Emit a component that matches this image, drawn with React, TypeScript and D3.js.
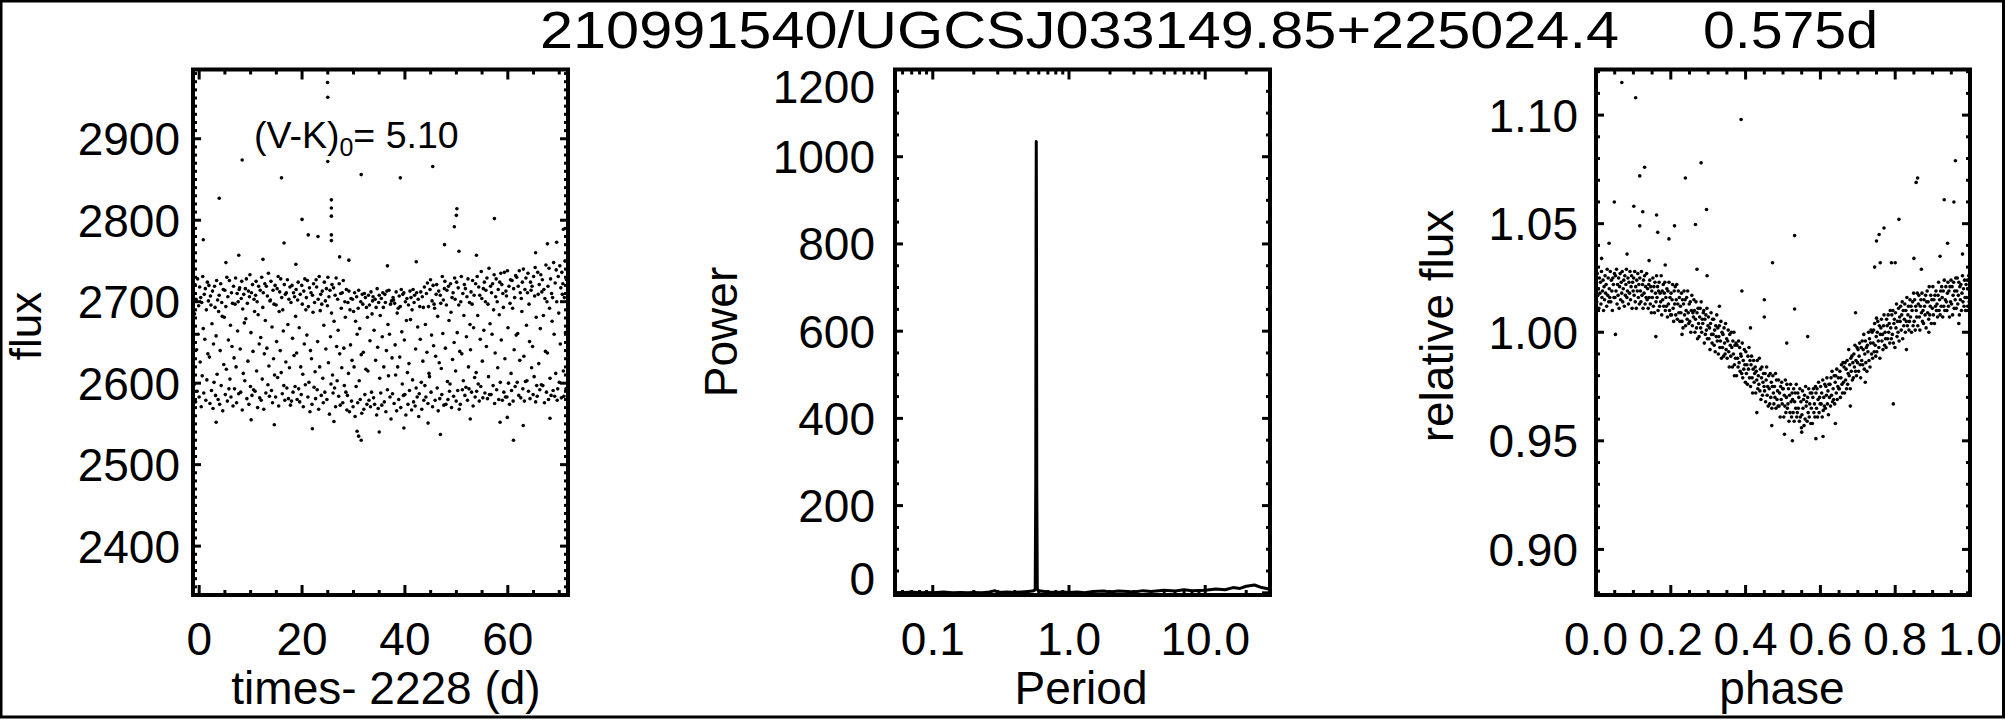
import React from 'react';
import * as d3 from 'd3';

const W = 2005;
const H = 720;
const FONT = "'Liberation Sans', Arial, Helvetica, sans-serif";

// ---------- Title ----------
const titleId = '210991540/UGCSJ033149.85+225024.4';
const titlePeriod = '0.575d';
const vkLabel = '(V-K)';
const vkSub = '0';
const vkValue = '= 5.10';

// ---------- Panel 1: light curve (flux vs time) ----------
const lcTimeStart = -1.1;
const lcTimeEnd = 71.6;
// flux samples at the regular cadence, read row by row (10 per day)
const lcFlux = [
  2712,2598,2685,2721,2577,2703,2641,2590,2728,2660,
  2695,2583,2718,2626,2705,2571,2699,2609,2731,2667,
  2588,2709,2654,2716,2579,2690,2604,2724,2636,2701,
  2720,2632,2575,2707,2696,2591,2673,2713,2569,2648,
  2601,2719,2693,2585,2658,2726,2611,2702,2580,2688,
  2708,2574,2640,2722,2597,2699,2682,2566,2715,2623,
  2681,2714,2586,2694,2617,2730,2578,2706,2653,2593,
  2726,2605,2671,2583,2711,2645,2698,2572,2719,2631,
  2593,2697,2729,2620,2576,2710,2664,2700,2587,2715,
  2717,2642,2589,2704,2725,2567,2691,2612,2709,2674,
  2603,2716,2679,2728,2581,2698,2627,2713,2574,2706,
  2733,2596,2662,2711,2585,2721,2639,2592,2703,2688,
  2590,2708,2725,2615,2700,2570,2684,2719,2648,2582,
  2714,2656,2579,2730,2605,2693,2711,2568,2636,2722,
  2677,2588,2719,2643,2707,2598,2735,2621,2584,2701,
  2702,2725,2591,2669,2576,2714,2630,2697,2610,2720,
  2583,2696,2651,2716,2607,2731,2572,2688,2712,2640,
  2728,2613,2705,2587,2690,2664,2597,2721,2579,2709,
  2626,2711,2594,2727,2672,2581,2703,2619,2718,2573,
  2699,2578,2720,2655,2589,2711,2634,2706,2596,2682,
  2715,2637,2580,2702,2724,2593,2668,2577,2709,2620,
  2586,2720,2697,2611,2571,2713,2648,2728,2598,2690,
  2705,2659,2726,2583,2694,2601,2717,2565,2640,2711,
  2630,2574,2708,2687,2722,2595,2699,2614,2581,2727,
  2718,2592,2651,2703,2568,2731,2620,2689,2709,2585,
  2697,2713,2606,2576,2671,2724,2589,2701,2642,2716,
  2580,2695,2730,2625,2706,2562,2714,2657,2599,2686,
  2721,2610,2588,2717,2676,2594,2708,2571,2729,2645,
  2603,2703,2665,2584,2722,2636,2573,2710,2692,2619,
  2711,2576,2726,2643,2597,2700,2681,2589,2715,2567,
  2585,2699,2612,2713,2565,2690,2647,2704,2578,2628,
  2703,2571,2688,2620,2711,2559,2676,2596,2706,2660,
  2576,2692,2714,2603,2667,2580,2700,2635,2563,2709,
  2697,2638,2568,2710,2586,2705,2617,2693,2574,2681,
  2615,2708,2579,2696,2652,2571,2712,2589,2685,2701,
  2706,2582,2665,2574,2703,2628,2693,2561,2716,2644,
  2569,2699,2708,2606,2683,2588,2704,2573,2657,2711,
  2693,2620,2577,2709,2699,2565,2640,2713,2592,2672,
  2609,2714,2660,2583,2697,2556,2701,2631,2587,2705,
  2702,2575,2698,2647,2610,2712,2566,2686,2620,2692,
  2580,2707,2632,2694,2570,2715,2663,2599,2709,2585,
  2711,2653,2586,2700,2561,2677,2704,2613,2574,2696,
  2624,2591,2713,2678,2705,2567,2690,2604,2715,2577,
  2699,2708,2572,2642,2594,2711,2583,2669,2703,2559,
  2587,2694,2654,2712,2601,2568,2706,2627,2693,2579,
  2718,2597,2672,2583,2710,2638,2723,2575,2694,2612,
  2608,2715,2727,2589,2659,2701,2571,2720,2646,2697,
  2692,2579,2633,2709,2721,2594,2682,2566,2713,2625,
  2581,2708,2698,2618,2586,2731,2661,2702,2573,2716,
  2725,2643,2574,2696,2714,2602,2580,2719,2677,2590,
  2599,2722,2687,2570,2705,2629,2711,2584,2650,2729,
  2703,2615,2578,2724,2662,2591,2717,2696,2568,2639,
  2574,2700,2731,2636,2592,2710,2603,2683,2721,2585,
  2716,2595,2657,2706,2579,2728,2620,2593,2699,2672,
  2641,2712,2589,2697,2726,2572,2668,2708,2607,2583,
  2722,2613,2590,2731,2683,2599,2718,2578,2708,2654,
  2596,2737,2704,2627,2582,2716,2665,2724,2588,2700,
  2714,2645,2729,2581,2697,2608,2741,2586,2673,2719,
  2586,2711,2660,2722,2597,2690,2733,2575,2637,2706,
  2728,2592,2700,2619,2715,2580,2684,2724,2601,2735,
  2653,2721,2579,2710,2693,2589,2736,2630,2583,2713,
  2707,2583,2738,2668,2600,2719,2574,2698,2727,2612,
  2591,2726,2692,2578,2716,2641,2705,2596,2732,2659,
  2730,2601,2661,2719,2585,2738,2628,2711,2582,2704,
  2688,2724,2593,2740,2633,2578,2715,2602,2729,2671,
  2603,2711,2735,2590,2697,2651,2581,2724,2714,2619,
  2719,2645,2586,2731,2608,2707,2742,2577,2681,2597,
  2584,2736,2709,2624,2721,2592,2667,2733,2598,2712,
  2727,2597,2683,2715,2576,2704,2639,2745,2589,2700,
  2637,2719,2580,2741,2692,2606,2728,2585,2710,2676,
  2705,2591,2748,2660,2584,2723,2612,2739,2700,2579,
  2593,2731,2686,2601,2744,2648,2717,2582,2736,2709,
  2722,2615,2584,2705,2750,2662,2593,2727,2690,2738,
];
// isolated points off the main band [time, flux]
const lcOutliers: [number, number][] = [
  [24.96,2969],[25.0,2951],[8.36,2874],[16.0,2852],[25.0,2872],[31.5,2856],[39.1,2852],[45.4,2866],
  [3.9,2827],[25.7,2825],[25.7,2815],[25.7,2805],[25.7,2782],[25.7,2775],[20.0,2801],[21.2,2782],
  [23.1,2780],[16.5,2772],[50.1,2814],[50.0,2806],[49.6,2792],[57.4,2802],[47.7,2770],[70.8,2789],
  [67.7,2771],[69.5,2773],[0.8,2776],[50.5,2762],[7.7,2757],[29.1,2751],[30.7,2541],[31.0,2535],
  [31.5,2530],[35.0,2540],[46.9,2537],[61.1,2530],[22.0,2544],[10.1,2555],[58.5,2552],[63.0,2548],
  [5.2,2748],[12.4,2752],[18.8,2746],[27.3,2755],[36.6,2744],[42.2,2749],[53.9,2757],[65.4,2760],
  [3.3,2552],[14.6,2549],[26.2,2553],[39.8,2545],[44.5,2551],[52.7,2556],[59.9,2558],[68.2,2557],
];
const lcTimeDomain: [number, number] = [-1.2, 71.7];
const lcFluxDomain: [number, number] = [2340, 2985];
const lcTimeTicks = [0, 20, 40, 60];
const lcFluxTicks = [2400, 2500, 2600, 2700, 2800, 2900];

// ---------- Panel 2: periodogram ----------
const pgPeriod = [0.053,0.06,0.07,0.08,0.09,0.1,0.12,0.14,0.16,0.18,0.2,0.23,0.26,0.287,0.3,0.35,0.4,0.45,0.5,0.54,0.56,0.565,0.57,0.5735,0.575,0.5765,0.58,0.585,0.59,0.62,0.7,0.8,0.9,1.0,1.15,1.3,1.5,1.8,2.0,2.3,2.7,3.0,3.5,4.0,5.0,6.0,7.0,8.0,10,12,14,16,18,20,23,26,29.9];
const pgPower = [1,0,2,0,1,0,2,0,1,0,1,0,2,5,1,2,1,2,3,4,6,10,250,900,1035,900,250,10,6,4,2,1,2,1,2,0,3,4,2,4,3,2,5,3,6,4,7,5,6,9,7,12,10,15,18,12,8];
const pgPeriodDomain: [number, number] = [0.0528, 29.9];
const pgPowerDomain: [number, number] = [-5, 1200];
const pgPeriodTicks = [0.1, 1, 10];
const pgPeriodTickLabels = ['0.1', '1.0', '10.0'];
const pgPowerTicks = [0, 200, 400, 600, 800, 1000, 1200];

// ---------- Panel 3: phase-folded light curve ----------
// relative flux at evenly spaced phases (36 per 0.05 in phase)
const foldFlux = [
  1.022,1.014,1.027,1.017,1.020,1.011,1.025,1.018,1.023,1.013,1.028,1.016,1.019,1.024,1.010,1.021,1.015,1.026,1.018,1.022,1.012,1.029,1.017,1.025,1.014,1.020,1.016,1.028,1.014,1.024,1.019,1.010,1.025,1.022,1.016,1.027,
  1.016,1.026,1.019,1.029,1.013,1.022,1.017,1.025,1.011,1.021,1.027,1.015,1.023,1.018,1.028,1.014,1.020,1.024,1.012,1.026,1.017,1.022,1.029,1.016,1.019,1.025,1.013,1.023,1.018,1.028,1.015,1.021,1.026,1.011,1.023,1.019,
  1.025,1.017,1.028,1.014,1.021,1.011,1.024,1.019,1.027,1.016,1.022,1.013,1.025,1.019,1.014,1.028,1.017,1.022,1.011,1.024,1.018,1.026,1.013,1.021,1.016,1.027,1.015,1.020,1.011,1.022,1.016,1.024,1.013,1.021,1.009,1.019,
  1.016,1.025,1.012,1.021,1.009,1.023,1.018,1.014,1.026,1.016,1.021,1.010,1.019,1.023,1.012,1.018,1.014,1.026,1.008,1.019,1.015,1.022,1.012,1.018,1.023,1.010,1.016,1.012,1.020,1.007,1.019,1.013,1.023,1.010,1.016,1.008,
  1.018,1.008,1.015,1.022,1.011,1.005,1.019,1.013,1.021,1.008,1.015,1.022,1.006,1.013,1.019,1.009,1.016,1.005,1.012,1.009,1.018,1.005,1.015,1.002,1.013,1.019,1.008,1.015,1.003,1.010,1.016,1.006,1.019,1.009,1.004,1.013,
  1.005,1.014,1.000,1.010,1.017,1.003,1.009,1.007,1.015,1.010,1.000,1.006,1.014,1.002,1.009,0.997,1.011,1.004,0.998,1.007,1.011,1.002,1.014,1.000,1.006,1.004,1.009,1.010,0.995,1.006,0.999,1.008,1.001,1.011,0.997,1.003,
  1.007,0.997,1.002,0.992,1.004,1.009,0.999,0.995,1.006,0.999,1.006,0.994,1.001,0.991,1.003,0.998,1.008,0.996,1.002,0.990,0.998,1.003,0.993,0.996,1.005,0.988,1.000,0.993,0.999,0.989,1.002,0.995,0.990,1.004,0.992,0.997,
  0.988,0.996,1.001,0.991,0.984,0.999,0.994,0.989,1.000,0.993,0.984,0.996,0.990,1.000,0.985,0.994,0.988,0.995,0.980,0.994,0.988,0.984,0.996,0.986,0.993,0.982,0.990,0.989,0.981,0.995,0.979,0.987,0.983,0.992,0.985,0.977,
  0.991,0.981,0.985,0.976,0.989,0.983,0.993,0.979,0.987,0.975,0.985,0.989,0.979,0.972,0.983,0.987,0.977,0.981,0.984,0.972,0.982,0.978,0.987,0.974,0.980,0.976,0.988,0.973,0.983,0.969,0.979,0.984,0.971,0.977,0.981,0.975,
  0.973,0.981,0.968,0.978,0.984,0.971,0.975,0.966,0.980,0.974,0.967,0.981,0.970,0.977,0.965,0.975,0.980,0.972,0.967,0.975,0.970,0.981,0.965,0.978,0.969,0.973,0.966,0.978,0.966,0.972,0.961,0.975,0.969,0.977,0.967,0.974,
  0.974,0.961,0.971,0.966,0.978,0.963,0.970,0.976,0.965,0.967,0.974,0.959,0.971,0.963,0.976,0.968,0.961,0.972,0.969,0.963,0.974,0.959,0.968,0.972,0.965,0.976,0.961,0.963,0.972,0.965,0.970,0.959,0.974,0.961,0.968,0.956,
  0.962,0.973,0.965,0.969,0.957,0.971,0.960,0.975,0.966,0.968,0.959,0.970,0.963,0.974,0.961,0.967,0.972,0.958,0.965,0.972,0.958,0.970,0.974,0.963,0.967,0.961,0.975,0.972,0.965,0.974,0.961,0.969,0.977,0.963,0.970,0.967,
  0.975,0.967,0.972,0.961,0.978,0.964,0.970,0.966,0.976,0.965,0.975,0.971,0.979,0.967,0.973,0.962,0.976,0.970,0.976,0.966,0.979,0.971,0.982,0.968,0.974,0.969,0.980,0.967,0.977,0.980,0.972,0.983,0.969,0.975,0.979,0.974,
  0.974,0.982,0.970,0.979,0.985,0.976,0.972,0.986,0.977,0.984,0.972,0.986,0.978,0.983,0.974,0.987,0.976,0.981,0.992,0.980,0.985,0.974,0.988,0.982,0.989,0.978,0.986,0.979,0.990,0.984,0.994,0.982,0.987,0.980,0.993,0.986,
  0.992,0.982,0.989,0.995,0.985,0.979,0.993,0.987,0.996,0.985,0.992,0.999,0.983,0.990,0.996,0.986,0.993,0.982,0.994,0.991,1.000,0.987,0.997,0.984,0.995,1.001,0.990,1.000,0.988,0.995,1.001,0.991,1.004,0.994,0.989,0.998,
  0.991,1.000,1.005,0.996,0.993,1.003,0.988,0.999,1.002,1.006,0.996,0.999,0.992,1.003,1.008,0.994,1.000,0.997,0.993,1.006,1.003,0.997,1.008,1.000,1.004,0.995,1.010,1.002,0.997,1.008,0.999,1.010,0.995,1.004,1.006,0.993,
  1.009,1.002,1.013,0.998,1.005,1.000,1.011,0.996,1.007,1.005,1.012,1.001,1.008,1.014,0.997,1.010,1.003,1.006,1.013,1.000,1.010,1.005,1.016,1.003,1.008,1.012,1.001,1.005,1.015,1.007,1.012,1.000,1.010,1.014,1.003,1.018,
  1.005,1.015,1.001,1.012,1.010,1.007,1.018,1.003,1.013,1.017,1.007,1.001,1.012,1.015,1.009,1.018,1.005,1.010,1.004,1.015,1.012,1.008,1.017,1.002,1.014,1.019,1.009,1.014,1.006,1.021,1.008,1.012,1.017,1.004,1.015,1.011,
  1.021,1.008,1.015,1.004,1.017,1.012,1.019,1.010,1.013,1.007,1.017,1.023,1.010,1.015,1.008,1.019,1.012,1.021,1.016,1.007,1.019,1.012,1.024,1.010,1.015,1.021,1.014,1.010,1.018,1.023,1.012,1.019,1.007,1.021,1.014,1.024,
  1.013,1.021,1.008,1.017,1.023,1.011,1.019,1.015,1.025,1.011,1.019,1.025,1.013,1.017,1.023,1.008,1.021,1.015,1.022,1.010,1.018,1.026,1.014,1.020,1.012,1.024,1.016,1.010,1.022,1.016,1.024,1.012,1.020,1.026,1.014,1.019,
];
// isolated points off the folded curve [phase, relative flux]
const foldOutliers: [number, number][] = [
  [0.069,1.115],[0.106,1.108],[0.388,1.098],[0.961,1.079],[0.117,1.072],[0.130,1.076],[0.281,1.078],[0.239,1.071],
  [0.860,1.071],[0.856,1.069],[0.049,1.060],[0.101,1.058],[0.125,1.0555],[0.162,1.054],[0.2955,1.0565],[0.931,1.061],
  [0.957,1.060],[0.117,1.049],[0.165,1.046],[0.21,1.049],[0.195,1.043],[0.266,1.0496],[0.531,1.0445],[0.81,1.052],
  [0.77,1.048],[0.757,1.045],[0.75,1.042],[0.745,1.030],[0.472,1.032],[0.76,1.032],[0.79,1.032],[0.80,1.032],
  [0.87,1.029],[0.85,1.034],[0.27,1.029],[0.297,1.026],[0.39,1.019],[0.45,1.015],[0.531,1.0107],[0.45,1.007],
  [0.694,1.009],[0.75,1.0065],[0.413,1.002],[0.566,0.998],[0.51,0.995],[0.795,0.967],[0.052,0.999],[0.16,0.998],
  [0.504,0.953],[0.525,0.950],[0.588,0.951],[0.607,0.952],[0.035,1.041],[0.94,1.041],[0.92,1.035],[0.98,1.036],
  [0.015,1.034],[0.083,1.036],[0.142,1.033],[0.185,1.031],[0.33,1.012],[0.37,0.980],[0.43,0.963],[0.47,0.957],
  [0.55,0.954],[0.64,0.958],[0.68,0.966],[0.72,0.977],[0.83,0.992],[0.89,1.000],[0.97,1.004],[0.23,0.999],
];
const foldPhaseDomain: [number, number] = [0, 1];
const foldFluxDomain: [number, number] = [0.879, 1.121];
const foldPhaseTicks = [0, 0.2, 0.4, 0.6, 0.8, 1.0];
const foldFluxTicks = [0.90, 0.95, 1.00, 1.05, 1.10];

// ---------- Layout ----------
type Box = { x0: number; x1: number; y0: number; y1: number };
const boxL: Box = { x0: 193, x1: 568, y0: 69.5, y1: 595 };
const boxM: Box = { x0: 895, x1: 1270, y0: 69.5, y1: 595 };
const boxR: Box = { x0: 1596, x1: 1970, y0: 69.5, y1: 595 };

const TICK_FS = 46;
const LABEL_BASE = 655;

type Scale = (v: number) => number;

function Frame({ box, xs, ys, xMajor, xMinor, yMajor, yMinor }: {
  box: Box; xs: Scale; ys: Scale; xMajor: number[]; xMinor: number[]; yMajor: number[]; yMinor: number[];
}) {
  const segs: { x1: number; y1: number; x2: number; y2: number; w: number }[] = [];
  const add = (xv: number[], len: number) => xv.forEach(v => {
    const x = xs(v);
    if (x < box.x0 - 0.5 || x > box.x1 + 0.5) return;
    segs.push({ x1: x, y1: box.y1, x2: x, y2: box.y1 - len, w: 3 });
    segs.push({ x1: x, y1: box.y0, x2: x, y2: box.y0 + len, w: 3 });
  });
  const addY = (yv: number[], len: number) => yv.forEach(v => {
    const y = ys(v);
    if (y < box.y0 - 0.5 || y > box.y1 + 0.5) return;
    segs.push({ x1: box.x0, y1: y, x2: box.x0 + len, y2: y, w: 3 });
    segs.push({ x1: box.x1, y1: y, x2: box.x1 - len, y2: y, w: 3 });
  });
  add(xMajor, 10);
  add(xMinor, 5);
  addY(yMajor, 8);
  addY(yMinor, 4);
  return (
    <g>
      {segs.map((s, i) => (
        <line key={i} x1={s.x1} y1={s.y1} x2={s.x2} y2={s.y2} stroke="#000" strokeWidth={s.w} />
      ))}
      <rect x={box.x0} y={box.y0} width={box.x1 - box.x0} height={box.y1 - box.y0} fill="none" stroke="#000" strokeWidth={4} />
    </g>
  );
}

function YLabels({ box, ys, ticks, fmt, right }: { box: Box; ys: Scale; ticks: number[]; fmt: (v: number) => string; right: number }) {
  return (
    <g>
      {ticks.map((v, i) => {
        const y = ys(v);
        const base = Math.min(Math.max(y + 16.5, box.y0 + 33), box.y1);
        return (
          <text key={i} x={right} y={base} textAnchor="end" fontSize={TICK_FS} fontFamily={FONT} fill="#000">{fmt(v)}</text>
        );
      })}
    </g>
  );
}

function XLabels({ xs, ticks, labels }: { xs: Scale; ticks: number[]; labels: string[] }) {
  return (
    <g>
      {ticks.map((v, i) => (
        <text key={i} x={xs(v)} y={LABEL_BASE} textAnchor="middle" fontSize={TICK_FS} fontFamily={FONT} fill="#000">{labels[i]}</text>
      ))}
    </g>
  );
}

export default function App() {
  // Panel 1 scales
  const xL = d3.scaleLinear().domain(lcTimeDomain).range([boxL.x0, boxL.x1]);
  const yL = d3.scaleLinear().domain(lcFluxDomain).range([boxL.y1, boxL.y0]);
  const tOfIndex = d3.scaleLinear().domain([0, lcFlux.length - 1]).range([lcTimeStart, lcTimeEnd]);

  // Panel 2 scales
  const xM = d3.scaleLog().domain(pgPeriodDomain).range([boxM.x0, boxM.x1]);
  const yM = d3.scaleLinear().domain(pgPowerDomain).range([boxM.y1, boxM.y0]);
  const pgLine = d3.line<number>().x((_, i) => xM(pgPeriod[i])).y(d => yM(d))(pgPower) || '';

  // Panel 3 scales
  const xR = d3.scaleLinear().domain(foldPhaseDomain).range([boxR.x0, boxR.x1]);
  const yR = d3.scaleLinear().domain(foldFluxDomain).range([boxR.y1, boxR.y0]);
  const phOfIndex = d3.scaleLinear().domain([0, foldFlux.length - 1]).range([0.0007, 0.9993]);

  // tick sets
  const lcTimeMinor = d3.range(0, 72, 5).filter(v => v % 20 !== 0);
  const lcFluxMinor = d3.range(2340, 2990, 10).filter(v => v % 100 !== 0);
  const pgMinor: number[] = [];
  [0.01, 0.1, 1, 10].forEach(dec => { for (let k = 2; k <= 9; k++) pgMinor.push(dec * k); });
  const pgPowerMinor = d3.range(0, 1201, 50).filter(v => v % 200 !== 0);
  const phMinor = d3.range(0, 1.0001, 0.05).filter(v => Math.abs(v * 5 - Math.round(v * 5)) > 1e-6);
  const relMinor = d3.range(0.88, 1.121, 0.01).filter(v => Math.abs(v * 20 - Math.round(v * 20)) > 1e-6);

  const dotR = 1.8;

  return (
    <svg width={W} height={H} viewBox={`0 0 ${W} ${H}`} style={{ position: 'absolute', left: 0, top: 0, background: '#fff' }}>
      <rect x={0} y={0} width={W} height={H} fill="#fff" />
      <rect x={1} y={1} width={W - 2.5} height={716} fill="none" stroke="#000" strokeWidth={3} />

      {/* Title */}
      <text x={540} y={48} fontSize={52} fontFamily={FONT} textLength={1079} lengthAdjust="spacingAndGlyphs">{titleId}</text>
      <text x={1703} y={48} fontSize={52} fontFamily={FONT} textLength={175} lengthAdjust="spacingAndGlyphs">{titlePeriod}</text>

      {/* ---------------- Panel 1 ---------------- */}
      <g>
        {lcFlux.map((f, i) => (
          <circle key={'lc' + i} cx={xL(tOfIndex(i))} cy={yL(f)} r={dotR} fill="#000" />
        ))}
        {lcOutliers.map(([t, f], i) => (
          <circle key={'lo' + i} cx={xL(t)} cy={yL(f)} r={dotR} fill="#000" />
        ))}
        <text x={254} y={148} fontSize={37.5} fontFamily={FONT}>
          {vkLabel}
          <tspan fontSize={25} dy={8}>{vkSub}</tspan>
          <tspan dy={-8}>{vkValue}</tspan>
        </text>
        <Frame box={boxL} xs={xL} ys={yL} xMajor={lcTimeTicks} xMinor={lcTimeMinor} yMajor={lcFluxTicks} yMinor={lcFluxMinor} />
        <YLabels box={boxL} ys={yL} ticks={lcFluxTicks} fmt={v => String(v)} right={180} />
        <XLabels xs={xL} ticks={lcTimeTicks} labels={lcTimeTicks.map(String)} />
        <text x={386} y={704} textAnchor="middle" fontSize={TICK_FS} fontFamily={FONT}>times- 2228 (d)</text>
        <text transform="translate(41,326) rotate(-90)" textAnchor="middle" fontSize={44} fontFamily={FONT}>flux</text>
      </g>

      {/* ---------------- Panel 2 ---------------- */}
      <g>
        <path d={pgLine} fill="none" stroke="#000" strokeWidth={3} strokeLinejoin="round" />
        <Frame box={boxM} xs={xM} ys={yM} xMajor={pgPeriodTicks} xMinor={pgMinor} yMajor={pgPowerTicks} yMinor={pgPowerMinor} />
        <YLabels box={boxM} ys={yM} ticks={pgPowerTicks} fmt={v => String(v)} right={875} />
        <XLabels xs={xM} ticks={pgPeriodTicks} labels={pgPeriodTickLabels} />
        <text x={1081} y={704} textAnchor="middle" fontSize={TICK_FS} fontFamily={FONT}>Period</text>
        <text transform="translate(737,332) rotate(-90)" textAnchor="middle" fontSize={TICK_FS} fontFamily={FONT}>Power</text>
      </g>

      {/* ---------------- Panel 3 ---------------- */}
      <g>
        {foldFlux.map((f, i) => (
          <circle key={'ff' + i} cx={xR(phOfIndex(i))} cy={yR(f)} r={dotR} fill="#000" />
        ))}
        {foldOutliers.map(([p, f], i) => (
          <circle key={'fo' + i} cx={xR(p)} cy={yR(f)} r={dotR} fill="#000" />
        ))}
        <Frame box={boxR} xs={xR} ys={yR} xMajor={foldPhaseTicks} xMinor={phMinor} yMajor={foldFluxTicks} yMinor={relMinor} />
        <YLabels box={boxR} ys={yR} ticks={foldFluxTicks} fmt={v => v.toFixed(2)} right={1578} />
        <XLabels xs={xR} ticks={foldPhaseTicks} labels={foldPhaseTicks.map(v => v.toFixed(1))} />
        <text x={1782} y={704} textAnchor="middle" fontSize={TICK_FS} fontFamily={FONT}>phase</text>
        <text transform="translate(1453,326) rotate(-90)" textAnchor="middle" fontSize={TICK_FS} fontFamily={FONT}>relative flux</text>
      </g>
    </svg>
  );
}
